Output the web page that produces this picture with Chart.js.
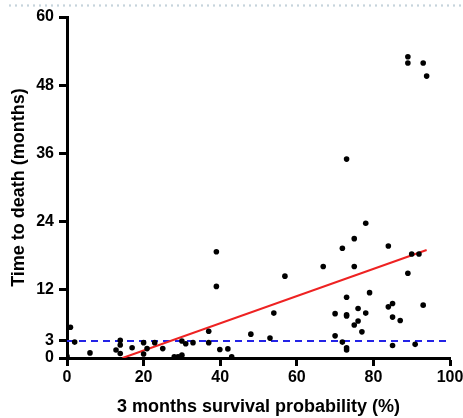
<!DOCTYPE html>
<html>
<head>
<meta charset="utf-8">
<script src="https://cdn.jsdelivr.net/npm/chart.js@4/dist/chart.umd.min.js"></script>
<style>
  body { margin: 0; background: #fff; }
  #wrap { position: relative; width: 463px; height: 418px; }
  #dots { position: absolute; left: 7px; top: 4px; width: 456px; height: 3px;
          background-image: radial-gradient(circle, #c6d4dc 1px, transparent 1.3px);
          background-size: 6px 3px; }
</style>
</head>
<body>
<div id="wrap">
  <div id="dots"></div>
  <canvas id="chart" width="463" height="418"></canvas>
</div>
<script>
// survival probability (%) vs time to death (months)
const survivalPct = [
  0, 0.9, 2, 6, 12.8, 13.9, 13.9, 13.9, 17, 20, 20, 20.9, 22.9, 25, 28, 29, 30, 30, 31, 32.9,
  37, 37, 39, 39, 39.9, 42, 43, 48, 53, 54, 56.9, 66.9, 70, 70, 71.9, 71.9, 73, 73, 73, 73,
  73, 73, 75, 75, 75, 76, 76, 77, 78, 78, 79, 83.9, 83.9, 85, 85, 85, 87, 89, 89, 89,
  90, 90.9, 91.9, 93, 93, 93.9
];
const timeToDeath = [
  0.3, 5.4, 2.8, 0.9, 1.4, 3.1, 2.3, 0.8, 1.8, 2.7, 0.7, 1.65, 2.7, 1.65, 0.2, 0.2, 0.5, 3.0, 2.5, 2.7,
  4.7, 2.7, 18.7, 12.6, 1.5, 1.6, 0.2, 4.2, 3.5, 7.9, 14.4, 16.1, 7.8, 3.9, 2.8, 19.3, 35.0, 10.7, 7.6, 7.4,
  1.8, 1.4, 21.0, 16.1, 5.8, 8.7, 6.5, 4.6, 23.7, 7.9, 11.5, 19.7, 9.0, 9.6, 7.2, 2.2, 6.6, 53.0, 51.9, 14.9,
  18.3, 2.4, 18.3, 51.9, 9.3, 49.6
];

// fitted line end points and the 3 month reference line
const fitX = [14.5, 93.9];
const fitY = [0, 19.0];
const refX = [0, 100];
const refY = [3, 3];

const yTicks = [0, 3, 12, 24, 36, 48, 60];

const toPoints = (xs, ys) => xs.map((x, i) => ({ x: x, y: ys[i] }));

const tickFont = { family: 'Liberation Sans', size: 16, weight: 'bold' };
const titleFont = { family: 'Liberation Sans', size: 18, weight: 'bold' };

const ctx = document.getElementById('chart');
const chart = new Chart(ctx, {
  type: 'scatter',
  data: {
    datasets: [
      {
        data: toPoints(refX, refY),
        showLine: true,
        borderColor: '#2323e6',
        borderWidth: 2,
        borderDash: [7, 5],
        pointRadius: 0,
        order: 3
      },
      {
        data: toPoints(fitX, fitY),
        showLine: true,
        borderColor: '#ee2222',
        borderWidth: 2,
        pointRadius: 0,
        order: 2
      },
      {
        data: toPoints(survivalPct, timeToDeath),
        backgroundColor: '#000',
        borderColor: '#000',
        pointRadius: 2.8,
        borderWidth: 0,
        order: 1
      }
    ]
  },
  options: {
    responsive: false,
    animation: false,
    layout: { padding: { left: 0, top: 17, right: 13, bottom: 0 } },
    plugins: { legend: { display: false }, tooltip: { enabled: false } },
    scales: {
      x: {
        min: 0, max: 100,
        ticks: { stepSize: 20, color: '#000', font: tickFont, padding: 2, maxRotation: 0 },
        grid: { drawOnChartArea: false, tickLength: 8, tickWidth: 3, tickColor: '#000' },
        border: { color: '#000', width: 3 },
        title: { display: true, text: '3 months survival probability (%)', color: '#000', font: titleFont, padding: 0 },
        afterFit(scale) { scale.paddingLeft = 0; scale.paddingRight = 0; scale.height = 60; }
      },
      y: {
        min: 0, max: 60,
        afterBuildTicks(scale) { scale.ticks = yTicks.map(v => ({ value: v })); },
        ticks: { color: '#000', font: tickFont, padding: 5 },
        grid: { drawOnChartArea: false, tickLength: 8, tickWidth: 3, tickColor: '#000' },
        border: { color: '#000', width: 3 },
        title: { display: true, text: 'Time to death (months)', color: '#000', font: titleFont, padding: { top: 8, bottom: 0 } },
        afterFit(scale) { scale.paddingTop = 0; scale.paddingBottom = 0; scale.width = 67; }
      }
    }
  }
});
</script>
</body>
</html>
